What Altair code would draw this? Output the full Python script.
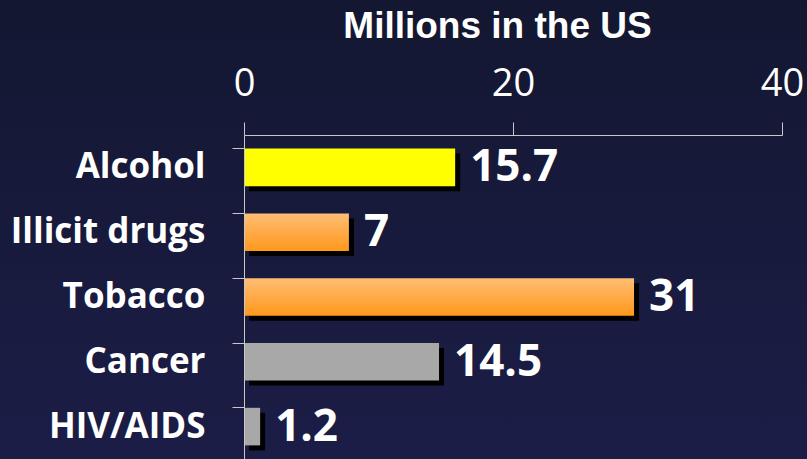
import altair as alt
import pandas as pd

categories = ["Alcohol", "Illicit drugs", "Tobacco", "Cancer", "HIV/AIDS"]
# bar lengths as drawn in the picture
values = [15.7, 7.8, 29.0, 14.5, 1.2]
# value labels as printed next to the bars
value_labels = ["15.7", "7", "31", "14.5", "1.2"]
groups = ["yellow", "orange", "orange", "gray", "gray"]
x_ticks = [0, 20, 40]

df = pd.DataFrame({"cat": categories, "val": values, "lab": value_labels, "grp": groups})

FONT = "Open Sans"

y_enc = alt.Y(
    "cat:N",
    sort=categories,
    scale=alt.Scale(paddingInner=0.42, paddingOuter=0.21),
    axis=alt.Axis(
        title=None,
        bandPosition=0,
        tickSize=12,
        tickColor="#c8c8c8",
        domainColor="#c8c8c8",
        labelColor="white",
        labelFont=FONT,
        labelFontSize=35,
        labelFontWeight="bold",
        labelPadding=27,
        labelLimit=400,
        zindex=1,
    ),
)
x_enc = alt.X(
    "val:Q",
    scale=alt.Scale(domain=[0, 40], nice=False),
    axis=alt.Axis(
        orient="top",
        values=x_ticks,
        grid=False,
        tickSize=13,
        tickColor="#c8c8c8",
        domainColor="#c8c8c8",
        labelColor="white",
        labelFont=FONT,
        labelFontSize=38,
        labelBaseline="alphabetic",
        labelPadding=27,
        labelFlush=False,
        title="Millions in the US",
        titleColor="white",
        titleFont="Liberation Sans",
        titleFontSize=37,
        titleFontWeight="bold",
        titleX=253,
        titleY=-98,
        titleBaseline="alphabetic",
        zindex=1,
    ),
)

bg = alt.Chart(pd.DataFrame({"k": [0]})).mark_rect(
    clip=False,
    color=alt.Gradient(
        gradient="linear",
        stops=[
            alt.GradientStop(color="#131731", offset=0),
            alt.GradientStop(color="#1c1d47", offset=1),
        ],
        x1=0, x2=0, y1=0, y2=1,
    ),
).encode(
    x=alt.value(-244), x2=alt.value(563), y=alt.value(-135), y2=alt.value(324)
)

base = alt.Chart(df).encode(x=x_enc, y=y_enc)

shadow = base.mark_bar(color="black", xOffset=5, yOffset=5)
yellow = base.mark_bar(color="#ffff00").transform_filter(alt.datum.grp == "yellow")
orange = base.mark_bar(
    color=alt.Gradient(
        gradient="linear",
        stops=[
            alt.GradientStop(color="#ffbd74", offset=0),
            alt.GradientStop(color="#ff981c", offset=1),
        ],
        x1=0, x2=0, y1=0, y2=1,
    )
).transform_filter(alt.datum.grp == "orange")
gray = base.mark_bar(color="#a8a8a8").transform_filter(alt.datum.grp == "gray")
labels = base.mark_text(
    align="left", baseline="middle", dx=15, dy=1,
    font=FONT, fontSize=44, fontWeight="bold", color="white",
).encode(text="lab:N")

chart = (
    alt.layer(bg, shadow, yellow, orange, gray, labels)
    .properties(
        width=538,
        height=324,
        autosize=alt.AutoSizeParams(type="none"),
        padding={"left": 244, "top": 135, "right": 25, "bottom": 0},
        background="#171a3c",
    )
    .configure_view(stroke=None)
)

chart.save("out.html", embed_options={"renderer": "svg", "actions": False})
